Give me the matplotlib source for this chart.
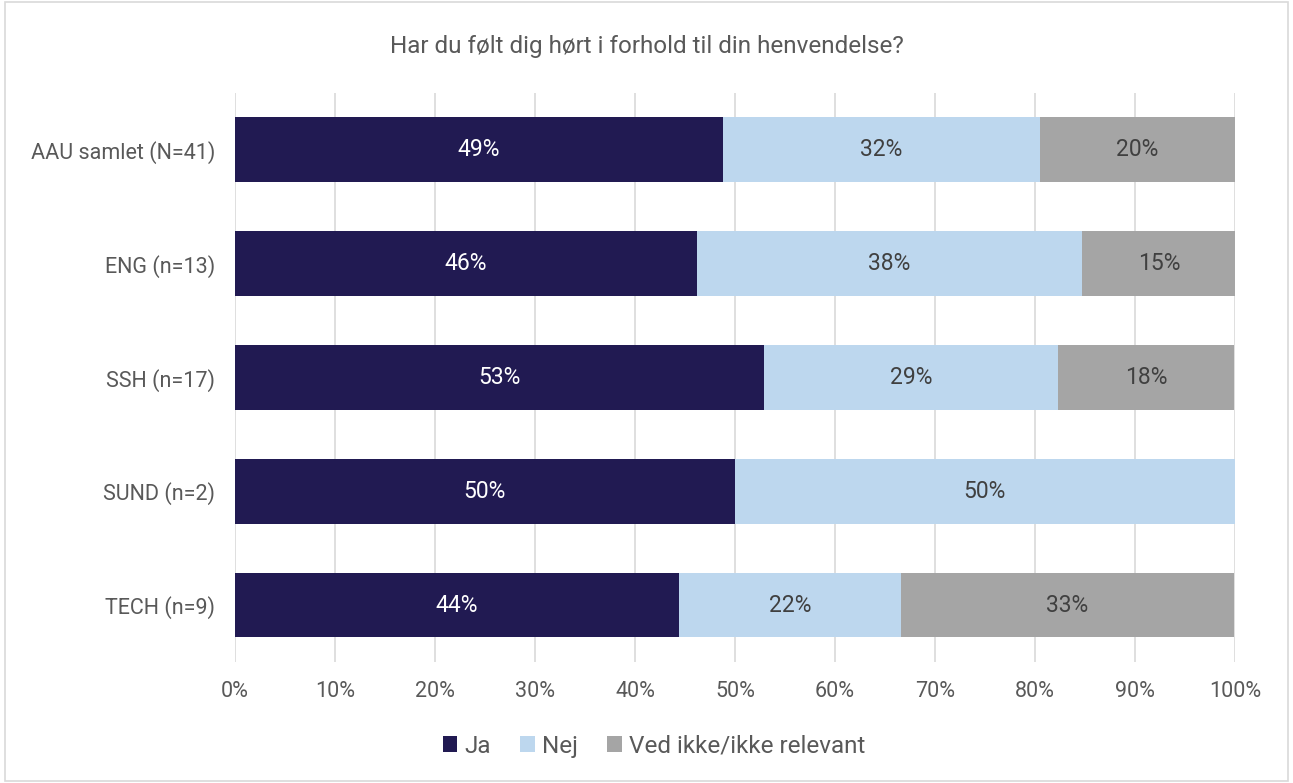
import numpy as np
import matplotlib.pyplot as plt
from matplotlib.patches import Rectangle

plt.rcParams['font.family'] = ['Roboto', 'DejaVu Sans']

categories = ['AAU samlet (N=41)', 'ENG (n=13)', 'SSH (n=17)', 'SUND (n=2)', 'TECH (n=9)']
ja = [48.8, 46.2, 52.9, 50.0, 44.4]
nej = [31.7, 38.5, 29.4, 50.0, 22.2]
ved_ikke = [19.5, 15.4, 17.6, 0.0, 33.3]
series_names = ['Ja', 'Nej', 'Ved ikke/ikke relevant']

colors = ['#211A52', '#BDD7EE', '#A5A5A5']
label_colors = ['white', '#404040', '#404040']
txt = '#595959'

fig = plt.figure(figsize=(12.93, 7.83), dpi=100)
ax = fig.add_axes([0.1817, 0.1546, 0.7734, 0.7266])

y = np.arange(len(categories))
left = np.zeros(len(categories))
handles = []
for vals, name, c, lc in zip([ja, nej, ved_ikke], series_names, colors, label_colors):
    vals = np.array(vals)
    b = ax.barh(y, vals, left=left, height=0.57, color=c, label=name, zorder=3)
    handles.append(b)
    for yi, l, v in zip(y, left, vals):
        if v > 0:
            ax.text(l + v / 2, yi, '%d%%' % round(v), ha='center', va='center',
                    color=lc, fontsize=16.5, zorder=4)
    left = left + vals

ax.set_xlim(0, 100)
ax.set_ylim(len(categories) - 0.5, -0.5)
ax.set_yticks(y)
ax.set_yticklabels(categories, fontsize=15.5, color=txt)
ax.set_xticks(np.arange(0, 101, 10))
ax.set_xticklabels(['%d%%' % v for v in range(0, 101, 10)], fontsize=15.5, color=txt)
ax.tick_params(axis='x', length=0, pad=14)
ax.tick_params(axis='y', length=0, pad=14)
ax.grid(axis='x', color='#D9D9D9', linewidth=1.2, zorder=0)
for s in ax.spines.values():
    s.set_visible(False)

fig.text(0.5, 0.94, 'Har du følt dig hørt i forhold til din henvendelse?',
         ha='center', va='center', fontsize=17.5, color=txt)

leg = fig.legend(handles=handles, labels=series_names, loc='center',
                 bbox_to_anchor=(0.506, 0.047), ncol=3, frameon=False,
                 fontsize=17.5, handlelength=0.6, handleheight=0.6,
                 handletextpad=0.3, columnspacing=1.2)
for t in leg.get_texts():
    t.set_color(txt)

fig.patches.append(Rectangle((0.004, 0.003), 0.992, 0.994, transform=fig.transFigure,
                             fill=False, edgecolor='#D9D9D9', linewidth=1.2))

fig.savefig('out.png', dpi=100)
